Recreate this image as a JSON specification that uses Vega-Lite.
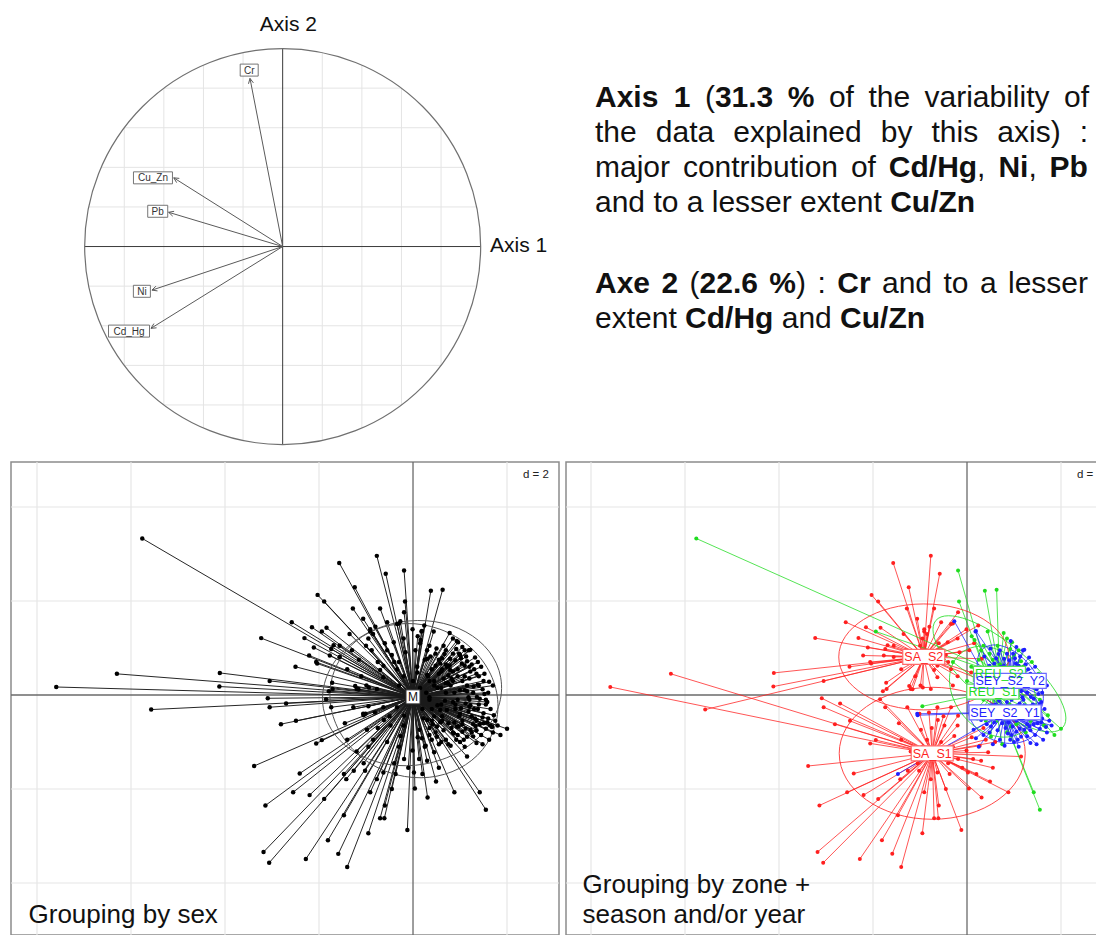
{
"$schema":"https://vega.github.io/schema/vega-lite/v6.json",
"padding":{"left":10,"top":0,"right":0,"bottom":0},
"background":"white",
"bounds":"flush",
"spacing":0,
"columns":2,
"align":"each",
"config":{"view":{"stroke":null},"font":"Liberation Sans"},
"datasets":{
"cgrid":[
{"x":-0.8,"y":-0.6,"x2":-0.8,"y2":0.6},{"x":-0.6,"y":-0.8,"x2":-0.6,"y2":0.8},{"x":-0.4,"y":-0.9165,"x2":-0.4,"y2":0.9165},{"x":-0.2,"y":-0.9798,"x2":-0.2,"y2":0.9798},
{"x":0.2,"y":-0.9798,"x2":0.2,"y2":0.9798},{"x":0.4,"y":-0.9165,"x2":0.4,"y2":0.9165},{"x":0.6,"y":-0.8,"x2":0.6,"y2":0.8},{"x":0.8,"y":-0.6,"x2":0.8,"y2":0.6},
{"x":-0.6,"y":-0.8,"x2":0.6,"y2":-0.8},{"x":-0.8,"y":-0.6,"x2":0.8,"y2":-0.6},{"x":-0.9165,"y":-0.4,"x2":0.9165,"y2":-0.4},{"x":-0.9798,"y":-0.2,"x2":0.9798,"y2":-0.2},
{"x":-0.9798,"y":0.2,"x2":0.9798,"y2":0.2},{"x":-0.9165,"y":0.4,"x2":0.9165,"y2":0.4},{"x":-0.8,"y":0.6,"x2":0.8,"y2":0.6},{"x":-0.6,"y":0.8,"x2":0.6,"y2":0.8}],
"arrows":[{"v":"Cr","x":-0.165,"y":0.849},{"v":"Cu_Zn","x":-0.55,"y":0.347},{"v":"Pb","x":-0.576,"y":0.173},{"v":"Ni","x":-0.66,"y":-0.22},{"v":"Cd_Hg","x":-0.665,"y":-0.413}],
"alabels":[{"v":"Cr","x":-0.169,"y":0.891},{"v":"Cu_Zn","x":-0.655,"y":0.347},{"v":"Pb","x":-0.631,"y":0.178},{"v":"Ni","x":-0.711,"y":-0.226},{"v":"Cd_Hg","x":-0.776,"y":-0.427}],
"words":[
{"t":"Axis","x":29,"y":107,"b":1},{"t":"1","x":107.8,"y":107,"b":1},{"t":"(","x":138.9,"y":107,"b":0},{"t":"31.3","x":148.9,"y":107,"b":1},{"t":"%","x":221.8,"y":107,"b":1},{"t":"of","x":262.9,"y":107,"b":0},{"t":"the","x":302.4,"y":107,"b":0},{"t":"variability","x":358.5,"y":107,"b":0},{"t":"of","x":498,"y":107,"b":0},
{"t":"the","x":29,"y":141.5,"b":0},{"t":"data","x":89.8,"y":141.5,"b":0},{"t":"explained","x":167.3,"y":141.5,"b":0},{"t":"by","x":314.8,"y":141.5,"b":0},{"t":"this","x":365.5,"y":141.5,"b":0},{"t":"axis)","x":431.3,"y":141.5,"b":0},{"t":":","x":513.7,"y":141.5,"b":0},
{"t":"major","x":29,"y":176.5,"b":0},{"t":"contribution","x":116.9,"y":176.5,"b":0},{"t":"of","x":284.9,"y":176.5,"b":0},{"t":"Cd/Hg","x":322.8,"y":176.5,"b":1},{"t":",","x":411.1,"y":176.5,"b":0},{"t":"Ni","x":432.4,"y":176.5,"b":1},{"t":",","x":462.4,"y":176.5,"b":0},{"t":"Pb","x":483.6,"y":176.5,"b":1},
{"t":"and to a lesser extent","x":29,"y":211.5,"b":0},{"t":"Cu/Zn","x":324.2,"y":211.5,"b":1},
{"t":"Axe","x":29,"y":293,"b":1},{"t":"2","x":95.45,"y":293,"b":1},{"t":"(","x":123.56,"y":293,"b":0},{"t":"22.6","x":133.55,"y":293,"b":1},{"t":"%","x":203.36,"y":293,"b":1},{"t":")","x":230.03,"y":293,"b":0},{"t":":","x":251.45,"y":293,"b":0},{"t":"Cr","x":271.22,"y":293,"b":1},{"t":"and","x":315.98,"y":293,"b":0},{"t":"to","x":377.45,"y":293,"b":0},{"t":"a","x":413.9,"y":293,"b":0},{"t":"lesser","x":442.0,"y":293,"b":0},
{"t":"extent","x":29,"y":328,"b":0},{"t":"Cd/Hg","x":119.06,"y":328,"b":1},{"t":"and","x":215.72,"y":328,"b":0},{"t":"Cu/Zn","x":274.1,"y":328,"b":1}],
"bgrid":[{"x":-8,"y":-6,"x2":-8,"y2":6},{"x":-6,"y":-6,"x2":-6,"y2":6},{"x":-4,"y":-6,"x2":-4,"y2":6},{"x":-2,"y":-6,"x2":-2,"y2":6},{"x":2,"y":-6,"x2":2,"y2":6},
{"x":-9,"y":-4,"x2":4,"y2":-4},{"x":-9,"y":-2,"x2":4,"y2":-2},{"x":-9,"y":2,"x2":4,"y2":2},{"x":-9,"y":4,"x2":4,"y2":4}],
"baxes":[{"x":0,"y":-6,"x2":0,"y2":6},{"x":-9,"y":0,"x2":4,"y2":0}],
"centers":[{"g":"SA_S1","x":-0.74,"y":-1.24},{"g":"SA_S2","x":-0.92,"y":0.81},{"g":"REU_S2","x":0.69,"y":0.45},{"g":"REU_S1","x":0.55,"y":0.07},{"g":"SEY_S2_Y1","x":0.81,"y":-0.37},{"g":"SEY_S2_Y2","x":0.92,"y":0.30}],
"ellL":[{"g":"F","x":-0.02,"y":0.04},{"g":"M","x":0.02,"y":-0.12}],
"pts":[
{"g":"SA_S2","x":-1.57,"y":2.81},{"g":"SA_S2","x":-0.77,"y":2.96},{"g":"SA_S2","x":-0.58,"y":2.58},{"g":"SA_S2","x":-1.24,"y":2.29},{"g":"SA_S2","x":-2.03,"y":2.13},{"g":"SA_S2","x":-1.89,"y":1.99},{"g":"SA_S2","x":-2.58,"y":1.55},{"g":"SA_S2","x":-3.23,"y":1.21},{"g":"SA_S2","x":-2.31,"y":1.21},{"g":"SA_S2","x":-2.15,"y":1.44},{"g":"SA_S2","x":-1.84,"y":1.43},{"g":"SA_S2","x":-4.11,"y":0.47},{"g":"SA_S2","x":-4.12,"y":0.18},{"g":"SA_S2","x":-5.57,"y":-0.31},{"g":"SA_S2","x":-3.05,"y":0.30},{"g":"SA_S2","x":-1.28,"y":1.84},{"g":"SA_S2","x":-0.70,"y":1.84},{"g":"SA_S2","x":-0.30,"y":1.52},{"g":"SA_S2","x":-1.69,"y":1.06},{"g":"SA_S2","x":-1.74,"y":0.98},{"g":"SA_S2","x":-2.11,"y":1.01},{"g":"SA_S2","x":-1.56,"y":0.81},{"g":"SA_S2","x":-2.04,"y":0.67},{"g":"SA_S2","x":-1.72,"y":0.26},{"g":"SA_S2","x":-1.79,"y":0.08},{"g":"SA_S2","x":-1.23,"y":0.19},{"g":"SA_S2","x":-1.16,"y":0.12},{"g":"SA_S2","x":-0.94,"y":0.16},{"g":"SA_S2","x":-0.70,"y":0.53},{"g":"SA_S2","x":-0.55,"y":1.55},{"g":"SA_S2","x":-0.34,"y":1.51},{"g":"SA_S2","x":-0.19,"y":1.76},{"g":"SA_S2","x":-0.01,"y":1.40},{"g":"SA_S2","x":0.24,"y":1.48},{"g":"SA_S2","x":-0.41,"y":1.12},{"g":"SA_S2","x":-0.16,"y":0.91},{"g":"SA_S2","x":-0.63,"y":0.62},{"g":"SA_S2","x":-0.63,"y":0.38},{"g":"SA_S2","x":-0.34,"y":0.55},{"g":"SA_S2","x":0.09,"y":0.48},{"g":"SA_S2","x":0.31,"y":0.77},{"g":"SA_S2","x":-0.77,"y":0.13},{"g":"SA_S2","x":-1.20,"y":0.13},{"g":"SA_S2","x":-0.99,"y":0.20},{"g":"SA_S2","x":-0.91,"y":1.40},{"g":"SA_S2","x":-1.06,"y":1.62},{"g":"SA_S2","x":-1.35,"y":1.30},{"g":"SA_S2","x":-1.56,"y":1.05},{"g":"SA_S2","x":-2.21,"y":0.84},{"g":"SA_S2","x":-2.06,"y":0.70},{"g":"SA_S2","x":-1.77,"y":0.84},{"g":"SA_S2","x":-1.71,"y":0.13},{"g":"SA_S2","x":-0.91,"y":1.35},{"g":"SA_S2","x":-0.85,"y":1.30},{"g":"SA_S2","x":-0.95,"y":1.20},{"g":"SA_S2","x":-0.80,"y":1.45},{"g":"SA_S2","x":0.05,"y":0.95},{"g":"SA_S2","x":0.15,"y":1.10},{"g":"SA_S2","x":-0.45,"y":0.85},{"g":"SA_S2","x":-0.20,"y":0.40},{"g":"SA_S2","x":0.35,"y":0.30},{"g":"SA_S2","x":-0.30,"y":0.20},{"g":"SA_S2","x":-1.40,"y":0.55},{"g":"SA_S2","x":-1.10,"y":0.40},{"g":"SA_S2","x":-2.50,"y":0.60},{"g":"SA_S2","x":-0.60,"y":1.10},
{"g":"SA_S2","x":-0.88,"y":0.95},{"g":"SA_S2","x":-1.00,"y":1.05},{"g":"SA_S2","x":-0.75,"y":0.70},{"g":"SA_S2","x":-1.15,"y":0.75},{"g":"SA_S2","x":-0.55,"y":0.95},{"g":"SA_S2","x":-0.40,"y":0.70},{"g":"SA_S2","x":-0.20,"y":1.20},{"g":"SA_S2","x":-1.30,"y":0.95},
{"g":"SA_S1","x":-7.59,"y":0.17},{"g":"SA_S1","x":-6.30,"y":0.45},{"g":"SA_S1","x":-3.09,"y":-0.07},{"g":"SA_S1","x":-3.05,"y":-0.26},{"g":"SA_S1","x":-2.70,"y":-0.18},{"g":"SA_S1","x":-2.49,"y":-0.55},{"g":"SA_S1","x":-2.81,"y":-0.62},{"g":"SA_S1","x":-3.38,"y":-1.51},{"g":"SA_S1","x":-2.41,"y":-1.67},{"g":"SA_S1","x":-2.55,"y":-2.07},{"g":"SA_S1","x":-3.14,"y":-2.35},{"g":"SA_S1","x":-2.20,"y":-2.13},{"g":"SA_S1","x":-1.89,"y":-2.21},{"g":"SA_S1","x":-3.18,"y":-3.34},{"g":"SA_S1","x":-3.06,"y":-3.57},{"g":"SA_S1","x":-2.28,"y":-3.49},{"g":"SA_S1","x":-1.81,"y":-3.09},{"g":"SA_S1","x":-1.59,"y":-3.38},{"g":"SA_S1","x":-1.40,"y":-3.66},{"g":"SA_S1","x":-1.47,"y":-2.56},{"g":"SA_S1","x":-0.95,"y":-2.94},{"g":"SA_S1","x":-0.70,"y":-2.62},{"g":"SA_S1","x":-0.61,"y":-2.62},{"g":"SA_S1","x":-0.12,"y":-2.87},{"g":"SA_S1","x":0.04,"y":-1.99},{"g":"SA_S1","x":0.31,"y":-2.18},{"g":"SA_S1","x":0.49,"y":-1.84},{"g":"SA_S1","x":0.88,"y":-2.07},{"g":"SA_S1","x":1.15,"y":-1.31},{"g":"SA_S1","x":-2.06,"y":-1.03},{"g":"SA_S1","x":-1.94,"y":-0.96},{"g":"SA_S1","x":-1.45,"y":-0.60},{"g":"SA_S1","x":-1.01,"y":-0.40},{"g":"SA_S1","x":-0.98,"y":-0.74},{"g":"SA_S1","x":-0.62,"y":-0.53},{"g":"SA_S1","x":-1.05,"y":-1.45},{"g":"SA_S1","x":-0.01,"y":-1.18},{"g":"SA_S1","x":0.13,"y":-1.36},{"g":"SA_S1","x":0.27,"y":-1.08},{"g":"SA_S1","x":0.45,"y":-1.22},{"g":"SA_S1","x":0.20,"y":-1.68},{"g":"SA_S1","x":0.02,"y":-1.65},{"g":"SA_S1","x":-0.19,"y":-1.36},{"g":"SA_S1","x":-0.37,"y":-1.68},{"g":"SA_S1","x":-0.63,"y":-1.65},{"g":"SA_S1","x":-0.77,"y":-1.79},{"g":"SA_S1","x":-0.45,"y":-2.00},{"g":"SA_S1","x":-0.91,"y":-2.07},{"g":"SA_S1","x":-1.02,"y":-1.61},{"g":"SA_S1","x":-1.26,"y":-1.61},{"g":"SA_S1","x":-1.42,"y":-1.79},{"g":"SA_S1","x":-0.27,"y":-0.87},{"g":"SA_S1","x":-0.48,"y":-0.65},{"g":"SA_S1","x":-0.19,"y":-0.44},{"g":"SA_S1","x":-0.34,"y":-0.26},{"g":"SA_S1","x":-0.63,"y":-0.26},{"g":"SA_S1","x":-0.81,"y":-0.37},{"g":"SA_S1","x":-1.27,"y":-0.26},{"g":"SA_S1","x":-1.74,"y":-0.26},{"g":"SA_S1","x":-1.85,"y":-0.09},{"g":"SA_S1","x":-0.55,"y":-1.00},{"g":"SA_S1","x":-0.85,"y":-0.95},{"g":"SA_S1","x":-0.40,"y":-1.45},{"g":"SA_S1","x":0.55,"y":-1.55},{"g":"SA_S1","x":0.30,"y":-1.40},{"g":"SA_S1","x":-1.20,"y":-1.20},{"g":"SA_S1","x":-0.60,"y":-2.35},{"g":"SA_S1","x":-0.75,"y":-0.70},{"g":"SA_S1","x":0.60,"y":-1.00},{"g":"SA_S1","x":0.10,"y":-0.90},
{"g":"SA_S1","x":-0.50,"y":-0.45},{"g":"SA_S1","x":-0.30,"y":-1.10},{"g":"SA_S1","x":-0.95,"y":-1.10},{"g":"SA_S1","x":-0.20,"y":-0.65},{"g":"SA_S1","x":0.35,"y":-0.70},{"g":"SA_S1","x":-1.40,"y":-0.95},{"g":"SA_S1","x":-0.10,"y":-1.55},{"g":"SA_S1","x":0.40,"y":-0.95},
{"g":"REU_S2","x":-5.76,"y":3.33},{"g":"REU_S2","x":0.38,"y":2.22},{"g":"REU_S2","x":0.63,"y":2.24},{"g":"REU_S2","x":2.00,"y":-0.72},{"g":"REU_S2","x":-1.94,"y":1.35},{"g":"REU_S2","x":0.96,"y":1.12},{"g":"REU_S2","x":0.44,"y":1.35},{"g":"REU_S2","x":0.79,"y":0.53},{"g":"REU_S2","x":1.72,"y":-0.43},{"g":"REU_S2","x":1.68,"y":-0.67},{"g":"REU_S2","x":1.86,"y":-0.85},{"g":"REU_S2","x":1.20,"y":0.60},{"g":"REU_S2","x":1.40,"y":0.20},{"g":"REU_S2","x":0.30,"y":0.95},{"g":"REU_S2","x":0.10,"y":1.25},{"g":"REU_S2","x":1.00,"y":0.85},{"g":"REU_S2","x":1.55,"y":-0.10},{"g":"REU_S2","x":0.55,"y":0.75},{"g":"REU_S2","x":1.30,"y":-0.30},{"g":"REU_S2","x":0.85,"y":0.30},
{"g":"REU_S2","x":0.65,"y":1.05},{"g":"REU_S2","x":0.85,"y":1.20},{"g":"REU_S2","x":0.35,"y":1.05},{"g":"REU_S2","x":1.10,"y":0.95},{"g":"REU_S2","x":1.52,"y":0.45},{"g":"REU_S2","x":0.70,"y":0.65},{"g":"REU_S2","x":1.15,"y":0.72},{"g":"REU_S2","x":0.25,"y":0.75},
{"g":"REU_S2","x":0.48,"y":0.88},{"g":"REU_S2","x":0.92,"y":0.98},{"g":"REU_S2","x":1.38,"y":0.70},{"g":"REU_S2","x":0.62,"y":0.55},{"g":"REU_S2","x":0.78,"y":1.32},
{"g":"REU_S1","x":-0.19,"y":2.65},{"g":"REU_S1","x":-0.17,"y":1.99},{"g":"REU_S1","x":1.42,"y":-2.07},{"g":"REU_S1","x":1.55,"y":-2.44},{"g":"REU_S1","x":-0.95,"y":-0.24},{"g":"REU_S1","x":0.16,"y":1.17},{"g":"REU_S1","x":0.30,"y":0.43},{"g":"REU_S1","x":0.09,"y":0.60},{"g":"REU_S1","x":0.94,"y":-0.67},{"g":"REU_S1","x":0.51,"y":-0.89},{"g":"REU_S1","x":1.64,"y":-0.65},{"g":"REU_S1","x":0.20,"y":-0.30},{"g":"REU_S1","x":0.90,"y":-0.20},{"g":"REU_S1","x":1.10,"y":0.10},{"g":"REU_S1","x":0.40,"y":-0.55},{"g":"REU_S1","x":0.75,"y":-1.05},{"g":"REU_S1","x":0.00,"y":0.30},{"g":"REU_S1","x":1.25,"y":-0.80},{"g":"REU_S1","x":0.60,"y":0.50},{"g":"REU_S1","x":-0.30,"y":0.70},{"g":"REU_S1","x":0.35,"y":-0.10},
{"g":"REU_S1","x":0.75,"y":0.25},{"g":"REU_S1","x":1.00,"y":-0.40},{"g":"REU_S1","x":0.62,"y":-0.55},{"g":"REU_S1","x":0.15,"y":0.15},{"g":"REU_S1","x":1.35,"y":-0.55},{"g":"REU_S1","x":0.45,"y":0.20},{"g":"REU_S1","x":1.20,"y":-0.25},{"g":"REU_S1","x":0.85,"y":-0.80},
{"g":"REU_S1","x":0.28,"y":0.05},{"g":"REU_S1","x":0.58,"y":-0.32},{"g":"REU_S1","x":1.05,"y":-0.62},{"g":"REU_S1","x":0.70,"y":0.05},{"g":"REU_S1","x":0.22,"y":-0.50},
{"g":"SEY_S2_Y2","x":1.22,"y":0.96},{"g":"SEY_S2_Y2","x":0.50,"y":0.99},{"g":"SEY_S2_Y2","x":0.67,"y":0.87},{"g":"SEY_S2_Y2","x":0.79,"y":0.77},{"g":"SEY_S2_Y2","x":0.90,"y":0.74},{"g":"SEY_S2_Y2","x":1.13,"y":0.82},{"g":"SEY_S2_Y2","x":1.04,"y":0.67},{"g":"SEY_S2_Y2","x":0.72,"y":0.60},{"g":"SEY_S2_Y2","x":0.58,"y":0.67},{"g":"SEY_S2_Y2","x":0.37,"y":0.82},{"g":"SEY_S2_Y2","x":0.19,"y":1.36},{"g":"SEY_S2_Y2","x":1.29,"y":0.18},{"g":"SEY_S2_Y2","x":1.36,"y":-0.04},{"g":"SEY_S2_Y2","x":0.93,"y":1.15},{"g":"SEY_S2_Y2","x":1.19,"y":0.95},{"g":"SEY_S2_Y2","x":1.35,"y":0.45},{"g":"SEY_S2_Y2","x":1.50,"y":0.30},{"g":"SEY_S2_Y2","x":1.10,"y":0.40},{"g":"SEY_S2_Y2","x":0.80,"y":0.20},{"g":"SEY_S2_Y2","x":1.60,"y":0.05},{"g":"SEY_S2_Y2","x":1.25,"y":0.65},{"g":"SEY_S2_Y2","x":0.65,"y":0.35},{"g":"SEY_S2_Y2","x":1.45,"y":0.60},{"g":"SEY_S2_Y2","x":1.00,"y":0.10},{"g":"SEY_S2_Y2","x":1.55,"y":-0.20},{"g":"SEY_S2_Y2","x":0.40,"y":0.55},{"g":"SEY_S2_Y2","x":1.15,"y":0.20},{"g":"SEY_S2_Y2","x":0.85,"y":0.50},
{"g":"SEY_S2_Y2","x":0.55,"y":0.45},{"g":"SEY_S2_Y2","x":0.75,"y":0.42},{"g":"SEY_S2_Y2","x":0.95,"y":0.55},{"g":"SEY_S2_Y2","x":1.05,"y":0.30},{"g":"SEY_S2_Y2","x":1.20,"y":0.35},{"g":"SEY_S2_Y2","x":1.30,"y":0.55},{"g":"SEY_S2_Y2","x":1.40,"y":0.40},{"g":"SEY_S2_Y2","x":1.62,"y":0.28},{"g":"SEY_S2_Y2","x":0.60,"y":0.15},{"g":"SEY_S2_Y2","x":0.88,"y":0.05},{"g":"SEY_S2_Y2","x":1.18,"y":-0.05},{"g":"SEY_S2_Y2","x":1.48,"y":0.12},{"g":"SEY_S2_Y2","x":0.70,"y":0.95},{"g":"SEY_S2_Y2","x":1.05,"y":1.02},{"g":"SEY_S2_Y2","x":0.45,"y":0.30},{"g":"SEY_S2_Y2","x":1.70,"y":0.20},{"g":"SEY_S2_Y2","x":1.32,"y":0.80},{"g":"SEY_S2_Y2","x":0.98,"y":0.88},{"g":"SEY_S2_Y2","x":1.42,"y":-0.08},{"g":"SEY_S2_Y2","x":0.82,"y":0.35},
{"g":"SEY_S2_Y2","x":0.48,"y":0.62},{"g":"SEY_S2_Y2","x":0.62,"y":0.78},{"g":"SEY_S2_Y2","x":0.85,"y":0.88},{"g":"SEY_S2_Y2","x":1.10,"y":0.62},{"g":"SEY_S2_Y2","x":1.22,"y":0.50},{"g":"SEY_S2_Y2","x":0.95,"y":0.40},{"g":"SEY_S2_Y2","x":0.70,"y":0.25},{"g":"SEY_S2_Y2","x":1.38,"y":0.22},{"g":"SEY_S2_Y2","x":1.52,"y":0.02},{"g":"SEY_S2_Y2","x":0.52,"y":0.15},{"g":"SEY_S2_Y2","x":1.02,"y":0.78},{"g":"SEY_S2_Y2","x":1.28,"y":0.05},{"g":"SEY_S2_Y2","x":0.32,"y":0.40},{"g":"SEY_S2_Y2","x":0.78,"y":0.62},{"g":"SEY_S2_Y2","x":1.15,"y":0.08},
{"g":"SEY_S2_Y1","x":-0.27,"y":1.57},{"g":"SEY_S2_Y1","x":0.18,"y":1.35},{"g":"SEY_S2_Y1","x":-1.06,"y":-0.40},{"g":"SEY_S2_Y1","x":-1.47,"y":-1.68},{"g":"SEY_S2_Y1","x":-1.05,"y":-0.43},{"g":"SEY_S2_Y1","x":1.22,"y":-0.74},{"g":"SEY_S2_Y1","x":1.33,"y":-0.67},{"g":"SEY_S2_Y1","x":1.50,"y":-0.60},{"g":"SEY_S2_Y1","x":0.97,"y":-0.67},{"g":"SEY_S2_Y1","x":0.87,"y":-0.82},{"g":"SEY_S2_Y1","x":0.51,"y":-0.67},{"g":"SEY_S2_Y1","x":0.30,"y":-0.53},{"g":"SEY_S2_Y1","x":0.19,"y":-0.92},{"g":"SEY_S2_Y1","x":0.14,"y":-0.74},{"g":"SEY_S2_Y1","x":1.50,"y":-0.39},{"g":"SEY_S2_Y1","x":1.15,"y":-0.89},{"g":"SEY_S2_Y1","x":1.35,"y":-1.02},{"g":"SEY_S2_Y1","x":1.60,"y":-0.50},{"g":"SEY_S2_Y1","x":1.40,"y":-0.20},{"g":"SEY_S2_Y1","x":1.20,"y":-0.10},{"g":"SEY_S2_Y1","x":0.60,"y":-0.20},{"g":"SEY_S2_Y1","x":0.40,"y":-0.30},{"g":"SEY_S2_Y1","x":1.00,"y":-1.00},{"g":"SEY_S2_Y1","x":0.70,"y":-0.95},{"g":"SEY_S2_Y1","x":1.70,"y":-0.80},{"g":"SEY_S2_Y1","x":1.25,"y":-0.45},{"g":"SEY_S2_Y1","x":0.90,"y":-0.30},{"g":"SEY_S2_Y1","x":0.55,"y":-1.05},{"g":"SEY_S2_Y1","x":1.05,"y":-0.55},{"g":"SEY_S2_Y1","x":1.45,"y":-0.85},{"g":"SEY_S2_Y1","x":0.75,"y":-0.60},{"g":"SEY_S2_Y1","x":1.65,"y":-0.30},{"g":"SEY_S2_Y1","x":0.35,"y":-0.05},{"g":"SEY_S2_Y1","x":1.10,"y":-1.10},{"g":"SEY_S2_Y1","x":0.25,"y":-1.10},
{"g":"SEY_S2_Y1","x":0.62,"y":-0.45},{"g":"SEY_S2_Y1","x":0.85,"y":-0.15},{"g":"SEY_S2_Y1","x":1.02,"y":-0.28},{"g":"SEY_S2_Y1","x":1.18,"y":-0.35},{"g":"SEY_S2_Y1","x":1.32,"y":-0.50},{"g":"SEY_S2_Y1","x":1.42,"y":-0.62},{"g":"SEY_S2_Y1","x":1.55,"y":-0.72},{"g":"SEY_S2_Y1","x":1.62,"y":-0.95},{"g":"SEY_S2_Y1","x":1.28,"y":-0.88},{"g":"SEY_S2_Y1","x":0.95,"y":-0.85},{"g":"SEY_S2_Y1","x":0.80,"y":-1.08},{"g":"SEY_S2_Y1","x":0.48,"y":-0.80},{"g":"SEY_S2_Y1","x":0.65,"y":-0.75},{"g":"SEY_S2_Y1","x":1.12,"y":-0.72},{"g":"SEY_S2_Y1","x":1.38,"y":-0.30},{"g":"SEY_S2_Y1","x":1.75,"y":-0.55},{"g":"SEY_S2_Y1","x":1.58,"y":-0.15},{"g":"SEY_S2_Y1","x":0.98,"y":-0.45},{"g":"SEY_S2_Y1","x":0.72,"y":-0.32},{"g":"SEY_S2_Y1","x":1.22,"y":-0.22},{"g":"SEY_S2_Y1","x":0.45,"y":-0.45},{"g":"SEY_S2_Y1","x":1.48,"y":-1.05},{"g":"SEY_S2_Y1","x":1.80,"y":-0.65},{"g":"SEY_S2_Y1","x":0.88,"y":-0.58},{"g":"SEY_S2_Y1","x":1.08,"y":-0.95},
{"g":"SEY_S2_Y1","x":0.52,"y":-0.22},{"g":"SEY_S2_Y1","x":0.68,"y":-0.12},{"g":"SEY_S2_Y1","x":0.95,"y":-0.10},{"g":"SEY_S2_Y1","x":1.12,"y":-0.18},{"g":"SEY_S2_Y1","x":1.28,"y":-0.62},{"g":"SEY_S2_Y1","x":1.05,"y":-0.78},{"g":"SEY_S2_Y1","x":0.82,"y":-0.70},{"g":"SEY_S2_Y1","x":0.58,"y":-0.58},{"g":"SEY_S2_Y1","x":1.48,"y":-0.48},{"g":"SEY_S2_Y1","x":1.68,"y":-0.68},{"g":"SEY_S2_Y1","x":0.42,"y":-0.62},{"g":"SEY_S2_Y1","x":0.35,"y":-0.85},{"g":"SEY_S2_Y1","x":1.35,"y":-0.75},{"g":"SEY_S2_Y1","x":1.58,"y":-0.58},{"g":"SEY_S2_Y1","x":0.92,"y":-0.95}]
},
"concat":[
{"width":555,"height":462,
"resolve":{"scale":{"shape":"independent"}},
"encoding":{"x":{"field":"x","type":"quantitative","scale":{"domain":[-1.372,1.431],"nice":false,"zero":false},"axis":null},
"y":{"field":"y","type":"quantitative","scale":{"domain":[-1.088,1.245],"nice":false,"zero":false},"axis":null}},
"layer":[
{"data":{"name":"cgrid"},"mark":{"type":"rule","color":"#e4e4e4","strokeWidth":1},"encoding":{"x2":{"field":"x2"},"y2":{"field":"y2"}}},
{"data":{"values":[{"x":-1,"y":0,"x2":1,"y2":0},{"x":0,"y":-1,"x2":0,"y2":1}]},"mark":{"type":"rule","color":"#3a3a3a","strokeWidth":1},"encoding":{"x2":{"field":"x2"},"y2":{"field":"y2"}}},
{"data":{"values":[{"x":0,"y":0}]},"mark":{"type":"point","shape":"circle","size":156816,"filled":false,"color":"#707070","strokeWidth":1.2,"opacity":1}},
{"data":{"name":"arrows"},"mark":{"type":"rule","color":"#5a5a5a","strokeWidth":1},"encoding":{"x2":{"datum":0},"y2":{"datum":0}}},
{"data":{"name":"arrows"},"mark":{"type":"point","size":4,"filled":false,"color":"#5a5a5a","strokeWidth":1,"opacity":1},
"encoding":{"shape":{"field":"v","type":"nominal","scale":{"domain":["Cr","Cu_Zn","Pb","Ni","Cd_Hg"],"range":["M3.41,4.43L0,0L-1.5,5.39","M5.57,0.56L0,0L2.9,4.79","M5.51,-0.96L0,0L4.07,3.84","M3.95,-3.95L0,0L5.53,0.79","M2.93,-4.76L0,0L5.56,-0.51"]},"legend":null}}},
{"data":{"name":"alabels"},"mark":{"type":"point","size":4,"filled":true,"fill":"white","stroke":"#666666","strokeWidth":0.9,"opacity":1},
"encoding":{"shape":{"field":"v","type":"nominal","scale":{"domain":["Cr","Cu_Zn","Pb","Ni","Cd_Hg"],"range":["M-9,-6L9,-6L9,6L-9,6Z","M-19.5,-6L19.5,-6L19.5,6L-19.5,6Z","M-10,-6L10,-6L10,6L-10,6Z","M-8.5,-6L8.5,-6L8.5,6L-8.5,6Z","M-20.5,-6L20.5,-6L20.5,6L-20.5,6Z"]},"legend":null}}},
{"data":{"name":"alabels"},"mark":{"type":"text","fontSize":10,"color":"#333333","baseline":"middle","align":"center","dy":0.5},"encoding":{"text":{"field":"v"}}},
{"data":{"values":[{"x":0.029,"y":1.088,"t":"Axis 2"}]},"mark":{"type":"text","fontSize":21,"color":"#111111","align":"center","baseline":"alphabetic"},"encoding":{"text":{"field":"t"}}},
{"data":{"values":[{"x":1.047,"y":-0.03,"t":"Axis 1"}]},"mark":{"type":"text","fontSize":21,"color":"#111111","align":"left","baseline":"alphabetic"},"encoding":{"text":{"field":"t"}}}
]},
{"width":531,"height":462,"data":{"name":"words"},
"encoding":{"x":{"field":"x","type":"quantitative","scale":{"domain":[0,531],"nice":false,"zero":false},"axis":null},
"y":{"field":"y","type":"quantitative","scale":{"domain":[0,462],"reverse":true,"nice":false,"zero":false},"axis":null},
"text":{"field":"t"}},
"layer":[
{"transform":[{"filter":"datum.b == 0"}],"mark":{"type":"text","align":"left","baseline":"alphabetic","fontSize":30,"color":"#111111","font":"Liberation Sans"}},
{"transform":[{"filter":"datum.b == 1"}],"mark":{"type":"text","align":"left","baseline":"alphabetic","fontSize":30,"fontWeight":"bold","color":"#111111","font":"Liberation Sans"}}
]},
{"width":548,"height":473,"view":{"stroke":"#8c8c8c","strokeWidth":1.5},
"encoding":{"x":{"field":"x","type":"quantitative","scale":{"domain":[-8.553,3.106],"nice":false,"zero":false},"axis":null},
"y":{"field":"y","type":"quantitative","scale":{"domain":[-5.106,4.957],"nice":false,"zero":false},"axis":null}},
"layer":[
{"data":{"name":"bgrid"},"mark":{"type":"rule","color":"#e6e6e6","strokeWidth":1.2,"clip":true},"encoding":{"x2":{"field":"x2"},"y2":{"field":"y2"}}},
{"data":{"name":"baxes"},"mark":{"type":"rule","color":"#6a6a6a","strokeWidth":1.3,"clip":true},"encoding":{"x2":{"field":"x2"},"y2":{"field":"y2"}}},
{"data":{"name":"pts"},"mark":{"type":"rule","color":"#1a1a1a","strokeWidth":1,"opacity":0.95},"encoding":{"x2":{"datum":0},"y2":{"datum":-0.04}}},
{"data":{"name":"ellL"},"mark":{"type":"point","size":4,"filled":false,"color":"#555555","strokeWidth":1,"opacity":1},
"encoding":{"shape":{"field":"g","type":"nominal","scale":{"domain":["F","M"],"range":["M88.63,-15.62C95.53,23.55,61.45,62.28,12.5,70.91C-36.45,79.54,-81.73,54.79,-88.63,15.62C-95.53,-23.55,-61.45,-62.28,-12.5,-70.91C36.45,-79.54,81.73,-54.79,88.63,-15.62Z","M79.87,29.07C65.52,68.51,18.13,87.48,-25.99,71.42C-70.11,55.36,-94.22,10.37,-79.87,-29.07C-65.52,-68.51,-18.13,-87.48,25.99,-71.42C70.11,-55.36,94.22,-10.37,79.87,29.07Z"]},"legend":null}}},
{"data":{"name":"pts"},"mark":{"type":"point","filled":true,"size":20,"color":"#000000","opacity":1}},
{"data":{"values":[{"x":0,"y":-0.04,"t":"M"}]},"mark":{"type":"point","shape":"M-7,-7L7,-7L7,7L-7,7Z","size":4,"filled":true,"fill":"white","stroke":"#333333","strokeWidth":1,"opacity":1}},
{"data":{"values":[{"x":0,"y":-0.04,"t":"M"}]},"mark":{"type":"text","fontSize":12,"color":"#111111","baseline":"middle","align":"center","dy":0.5},"encoding":{"text":{"field":"t"}}},
{"data":{"values":[{"x":2.89,"y":4.68,"t":"d = 2"}]},"mark":{"type":"text","fontSize":11.5,"color":"#222222","baseline":"middle","align":"right"},"encoding":{"text":{"field":"t"}}},
{"data":{"values":[{"x":-8.18,"y":-4.85,"t":"Grouping by sex"}]},"mark":{"type":"text","fontSize":26,"color":"#111111","baseline":"alphabetic","align":"left"},"encoding":{"text":{"field":"t"}}}
]},
{"width":531,"height":473,"view":{"stroke":"#8c8c8c","strokeWidth":1.5},
"resolve":{"scale":{"shape":"independent"}},
"encoding":{"x":{"field":"x","type":"quantitative","scale":{"domain":[-8.532,2.766],"nice":false,"zero":false},"axis":null},
"y":{"field":"y","type":"quantitative","scale":{"domain":[-5.106,4.957],"nice":false,"zero":false},"axis":null}},
"layer":[
{"data":{"name":"bgrid"},"mark":{"type":"rule","color":"#e6e6e6","strokeWidth":1.2,"clip":true},"encoding":{"x2":{"field":"x2"},"y2":{"field":"y2"}}},
{"data":{"name":"baxes"},"mark":{"type":"rule","color":"#6a6a6a","strokeWidth":1.3,"clip":true},"encoding":{"x2":{"field":"x2"},"y2":{"field":"y2"}}},
{"data":{"name":"pts"},"transform":[{"lookup":"g","from":{"data":{"name":"centers"},"key":"g","fields":["x","y"]},"as":["cx","cy"]}],
"mark":{"type":"rule","strokeWidth":0.9,"opacity":0.85},
"encoding":{"x2":{"field":"cx"},"y2":{"field":"cy"},"color":{"field":"g","type":"nominal","scale":{"domain":["SA_S1","SA_S2","REU_S1","REU_S2","SEY_S2_Y1","SEY_S2_Y2"],"range":["#ff1f1f","#ff1f1f","#1fdc1f","#1fdc1f","#1f1fff","#1f1fff"]},"legend":null}}},
{"data":{"name":"centers"},"mark":{"type":"point","size":4,"filled":false,"strokeWidth":0.9,"opacity":0.9},
"encoding":{"color":{"field":"g","type":"nominal","scale":{"domain":["SA_S1","SA_S2","REU_S1","REU_S2","SEY_S2_Y1","SEY_S2_Y2"],"range":["#ff1f1f","#ff1f1f","#1fdc1f","#1fdc1f","#1f1fff","#1f1fff"]},"legend":null},
"shape":{"field":"g","type":"nominal","scale":{"domain":["SA_S1","SA_S2","REU_S1","REU_S2","SEY_S2_Y1","SEY_S2_Y2"],"range":[
"M93,0C93,36.45,51.36,66,0,66C-51.36,66,-93,36.45,-93,0C-93,-36.45,-51.36,-66,0,-66C51.36,-66,93,-36.45,93,0Z",
"M85,0C85,29.27,46.95,53,0,53C-46.95,53,-85,29.27,-85,0C-85,-29.27,-46.95,-53,0,-53C46.95,-53,85,-29.27,85,0Z",
"M32.14,38.3C16.06,51.79,-11.36,45.59,-29.11,24.43C-46.86,3.27,-48.22,-24.81,-32.14,-38.3C-16.06,-51.79,11.36,-45.59,29.11,-24.43C46.86,-3.27,48.22,24.81,32.14,38.3Z",
"M63.58,53.35C52.93,66.04,15.83,52.45,-19.28,22.98C-54.39,-6.49,-74.23,-40.66,-63.58,-53.35C-52.93,-66.04,-15.83,-52.45,19.28,-22.98C54.39,6.49,74.23,40.66,63.58,53.35Z",
"M35.71,13C30.04,28.57,9.46,35.37,-10.26,28.19C-29.98,21.01,-41.38,2.57,-35.71,-13C-30.04,-28.57,-9.46,-35.37,10.26,-28.19C29.98,-21.01,41.38,-2.57,35.71,13Z",
"M27,32.17C16.42,41.05,-4.24,33.84,-19.15,16.07C-34.06,-1.7,-37.58,-23.29,-27,-32.17C-16.42,-41.05,4.24,-33.84,19.15,-16.07C34.06,1.7,37.58,23.29,27,32.17Z"]},"legend":null}}},
{"data":{"name":"pts"},"mark":{"type":"point","filled":true,"size":16,"opacity":1},
"encoding":{"color":{"field":"g","type":"nominal","scale":{"domain":["SA_S1","SA_S2","REU_S1","REU_S2","SEY_S2_Y1","SEY_S2_Y2"],"range":["#ff1f1f","#ff1f1f","#1fdc1f","#1fdc1f","#1f1fff","#1f1fff"]},"legend":null}}},
{"data":{"name":"centers"},"mark":{"type":"point","size":4,"filled":true,"fill":"white","strokeWidth":1.2,"opacity":1},
"encoding":{"stroke":{"field":"g","type":"nominal","scale":{"domain":["SA_S1","SA_S2","REU_S1","REU_S2","SEY_S2_Y1","SEY_S2_Y2"],"range":["#ff6a6a","#ff6a6a","#5ae05a","#5ae05a","#6a6aff","#6a6aff"]},"legend":null},
"shape":{"field":"g","type":"nominal","scale":{"domain":["SA_S1","SA_S2","REU_S1","REU_S2","SEY_S2_Y1","SEY_S2_Y2"],"range":["M-21,-7.5L21,-7.5L21,7.5L-21,7.5Z","M-21,-7.5L21,-7.5L21,7.5L-21,7.5Z","M-26,-7.5L26,-7.5L26,7.5L-26,7.5Z","M-26,-7.5L26,-7.5L26,7.5L-26,7.5Z","M-36,-7.5L36,-7.5L36,7.5L-36,7.5Z","M-36,-7.5L36,-7.5L36,7.5L-36,7.5Z"]},"legend":null}}},
{"data":{"name":"centers"},"mark":{"type":"text","fontSize":12.5,"baseline":"middle","align":"center","dy":0.5},
"encoding":{"text":{"field":"g"},"color":{"field":"g","type":"nominal","scale":{"domain":["SA_S1","SA_S2","REU_S1","REU_S2","SEY_S2_Y1","SEY_S2_Y2"],"range":["#ff1f1f","#ff1f1f","#1fdc1f","#1fdc1f","#1f1fff","#1f1fff"]},"legend":null}}},
{"data":{"values":[{"x":2.89,"y":4.68,"t":"d = 2"}]},"mark":{"type":"text","fontSize":11.5,"color":"#222222","baseline":"middle","align":"right","clip":true},"encoding":{"text":{"field":"t"}}},
{"data":{"values":[{"x":-8.18,"y":-4.22,"t":"Grouping by zone +"},{"x":-8.18,"y":-4.86,"t":"season and/or year"}]},"mark":{"type":"text","fontSize":26,"color":"#111111","baseline":"alphabetic","align":"left"},"encoding":{"text":{"field":"t"}}}
]}
]
}
